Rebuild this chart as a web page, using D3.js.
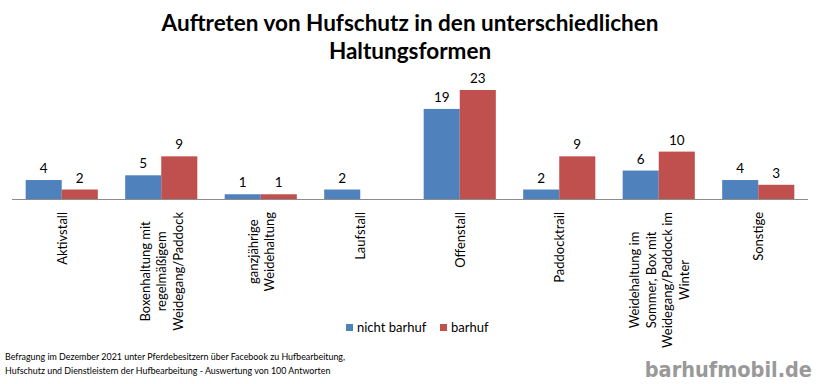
<!DOCTYPE html>
<html><head><meta charset="utf-8">
<script src="https://cdn.jsdelivr.net/npm/d3@7"></script>
<style>body{margin:0;background:#fff}svg{display:block}</style>
</head><body>
<script>
const titleLines = ["Auftreten von Hufschutz in den unterschiedlichen", "Haltungsformen"];
const categories = ["Aktivstall", "Boxenhaltung mit\nregelmäßigem\nWeidegang/Paddock", "ganzjährige\nWeidehaltung", "Laufstall", "Offenstall", "Paddocktrail", "Weidehaltung im\nSommer, Box mit\nWeidegang/Paddock im\nWinter", "Sonstige"];
const seriesNames = ["nicht barhuf", "barhuf"];
const nichtBarhuf = [4, 5, 1, 2, 19, 2, 6, 4];
const barhuf = [2, 9, 1, null, 23, 9, 10, 3];
const footerLines = ["Befragung im Dezember 2021 unter Pferdebesitzern über Facebook zu Hufbearbeitung,", "Hufschutz und Dienstleistern der Hufbearbeitung - Auswertung von 100 Antworten"];
const watermark = "barhufmobil.de";
const colors = ["#4F81BD", "#C0504D"];

const W = 820, H = 384;
const font = "Lato, 'Open Sans', sans-serif";
const svg = d3.select("body").append("svg").attr("width", W).attr("height", H);

const x = d3.scaleBand().domain(categories).range([12, 808]).paddingInner(0.275).paddingOuter(0.1375);
const xs = d3.scaleBand().domain(seriesNames).range([0, x.bandwidth()]);
const y = d3.scaleLinear().domain([0, 25]).range([199, 80.5]);

// title
svg.append("g").selectAll("text").data(titleLines).join("text")
  .attr("x", 410).attr("y", (d, i) => 31 + i * 28)
  .attr("text-anchor", "middle").attr("font-family", font).attr("font-weight", "bold")
  .attr("font-size", 22.5).attr("fill", "#000").text(d => d);

// bars
const series = [nichtBarhuf, barhuf];
series.forEach((vals, si) => {
  const data = categories.map((c, i) => ({c, v: vals[i]})).filter(d => d.v != null);
  svg.append("g").selectAll("rect").data(data).join("rect")
    .attr("x", d => x(d.c) + xs(seriesNames[si]))
    .attr("width", xs.bandwidth())
    .attr("y", d => y(d.v)).attr("height", d => y(0) - y(d.v))
    .attr("fill", colors[si]);
  svg.append("g").selectAll("text").data(data).join("text")
    .attr("x", d => x(d.c) + xs(seriesNames[si]) + xs.bandwidth() / 2)
    .attr("y", d => y(d.v) - 7)
    .attr("text-anchor", "middle").attr("font-family", font).attr("font-size", 13.5)
    .attr("fill", "#000").text(d => d.v);
});

// axis line
svg.append("line").attr("x1", x.range()[0]).attr("x2", x.range()[1])
  .attr("y1", y(0) + 0.5).attr("y2", y(0) + 0.5).attr("stroke", "#8c8c8c").attr("stroke-width", 1);

// category labels
const lh = 16.5;
categories.forEach(c => {
  const lines = c.split("\n");
  const g = svg.append("g").attr("transform", `translate(${x(c) + x.bandwidth() / 2},212) rotate(-90)`);
  const t = g.selectAll("text").data(lines).join("text")
    .attr("y", (d, i) => (i - (lines.length - 1) / 2) * lh)
    .attr("dominant-baseline", "central").attr("text-anchor", "middle")
    .attr("font-family", font).attr("font-size", 13).attr("fill", "#000").text(d => d);
  let maxW = 0;
  t.each(function () { maxW = Math.max(maxW, this.getComputedTextLength()); });
  t.attr("x", -maxW / 2);
});

// legend
const legX = [346, 440];
seriesNames.forEach((s, i) => {
  svg.append("rect").attr("x", legX[i]).attr("y", 324).attr("width", 7).attr("height", 7).attr("fill", colors[i]);
  svg.append("text").attr("x", legX[i] + 11).attr("y", 332).attr("font-family", font)
    .attr("font-size", 13).attr("fill", "#000").text(s);
});

// footer
svg.append("g").selectAll("text").data(footerLines).join("text")
  .attr("x", 5).attr("y", (d, i) => 360 + i * 14)
  .attr("font-family", font).attr("font-size", 8.9).attr("fill", "#000").text(d => d);

// watermark
svg.append("text").attr("x", 812).attr("y", 377).attr("text-anchor", "end")
  .attr("font-family", "'DejaVu Sans Condensed', 'DejaVu Sans', sans-serif").attr("font-weight", "bold")
  .attr("font-size", 21.5).attr("fill", "#999999").text(watermark);
</script>
</body></html>
